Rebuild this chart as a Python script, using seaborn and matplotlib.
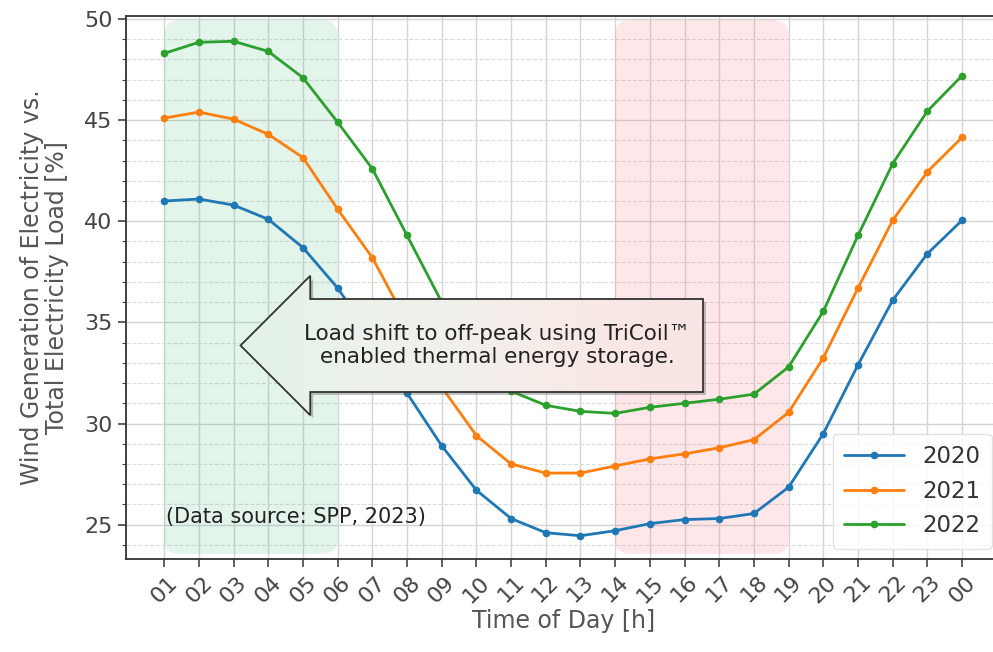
import numpy as np
import pandas as pd
import matplotlib
matplotlib.use('Agg')
import matplotlib.pyplot as plt
import seaborn as sns
from matplotlib.patches import FancyBboxPatch
from matplotlib.ticker import MultipleLocator

# Data
hours = ['01', '02', '03', '04', '05', '06', '07', '08', '09', '10', '11', '12',
         '13', '14', '15', '16', '17', '18', '19', '20', '21', '22', '23', '00']
wind_2020 = [41.0, 41.1, 40.8, 40.1, 38.7, 36.7, 34.2, 31.5, 28.9, 26.7, 25.3, 24.6,
             24.45, 24.7, 25.05, 25.25, 25.3, 25.55, 26.85, 29.5, 32.9, 36.1, 38.4, 40.05]
wind_2021 = [45.1, 45.4, 45.05, 44.3, 43.15, 40.6, 38.2, 35.0, 31.8, 29.4, 28.0, 27.55,
             27.55, 27.9, 28.25, 28.5, 28.8, 29.2, 30.55, 33.25, 36.7, 40.05, 42.45, 44.15]
wind_2022 = [48.3, 48.85, 48.9, 48.4, 47.1, 44.9, 42.6, 39.3, 36.0, 33.3, 31.6, 30.9,
             30.6, 30.5, 30.8, 31.0, 31.2, 31.45, 32.8, 35.55, 39.3, 42.85, 45.45, 47.2]
years = ['2020', '2021', '2022']
offpeak_span = ('01', '06')
peak_span = ('14', '19')

df = pd.DataFrame({
    'pos': list(range(len(hours))) * 3,
    'value': wind_2020 + wind_2021 + wind_2022,
    'year': [y for y in years for _ in hours],
})

sns.set_style('ticks')
plt.rcParams['font.family'] = ['DejaVu Sans']

fig = plt.figure(figsize=(9.93, 6.52), dpi=100)
ax = fig.add_axes([126 / 993, 93 / 652, 876 / 993, 543 / 652])

palette = ['#1f77b4', '#ff7f0e', '#2ca02c']
sns.lineplot(data=df, x='pos', y='value', hue='year', palette=palette,
             marker='o', markersize=5.5, markeredgewidth=0, linewidth=2,
             ax=ax, zorder=3)

ax.set_xlim(-1.1, 24.15)
ax.set_ylim(23.3, 50.15)

# shaded off-peak / peak periods with rounded corners
ylo, yhi = 23.55, 49.95
for (a, b), col in [(offpeak_span, '#3cb371'), (peak_span, '#ff5a6a')]:
    i0, i1 = hours.index(a), hours.index(b)
    band = FancyBboxPatch((i0, ylo), i1 - i0, yhi - ylo,
                          boxstyle='round,pad=0,rounding_size=0.45',
                          mutation_aspect=1.7, facecolor=col, alpha=0.14,
                          edgecolor='none', zorder=1)
    ax.add_patch(band)

ax.set_xticks(range(len(hours)))
ax.set_xticklabels(hours, rotation=45, ha='center')
ax.yaxis.set_major_locator(MultipleLocator(5))
ax.yaxis.set_minor_locator(MultipleLocator(1))
ax.grid(which='major', color='#d4d4d4', linewidth=1.0, linestyle='-', zorder=0)
ax.grid(which='minor', axis='y', color='#dcdcdc', linewidth=0.8, linestyle='--', zorder=0)
ax.set_axisbelow(True)

ax.tick_params(axis='both', which='major', labelsize=16, colors='#444444',
               length=6, width=1.2)
ax.tick_params(axis='y', which='minor', length=3, width=0.8, colors='#444444')
for s in ax.spines.values():
    s.set_color('#333333')
    s.set_linewidth(1.3)

ax.set_xlabel('Time of Day [h]', fontsize=17, color='#555555', labelpad=2)
ax.set_ylabel('Wind Generation of Electricity vs.\nTotal Electricity Load [%]',
              fontsize=17, color='#555555', labelpad=11, linespacing=1.05)

ax.text(0.05, 25.4, '(Data source: SPP, 2023)', fontsize=15, color='#222222',
        va='center', ha='left', zorder=4)

leg = ax.legend(loc='lower right', fontsize=16.5, handlelength=2.6, borderpad=0.5,
                labelspacing=0.5, frameon=True, framealpha=0.85,
                edgecolor='#dddddd', borderaxespad=0.45)
for t in leg.get_texts():
    t.set_color('#333333')

# big left-pointing arrow with the load shift note (drawn in inches)
H = 6.52
arrow = FancyBboxPatch((2.87, H - 3.92), 4.16, 0.93,
                       boxstyle='larrow,pad=0', transform=fig.dpi_scale_trans,
                       facecolor='none', edgecolor='#333333', linewidth=1.3,
                       zorder=6)
fig.add_artist(arrow)

shadow = FancyBboxPatch((2.90, H - 3.95), 4.16, 0.93,
                        boxstyle='larrow,pad=0', transform=fig.dpi_scale_trans,
                        facecolor='#555555', edgecolor='none', alpha=0.35,
                        zorder=4)
fig.add_artist(shadow)

gax = fig.add_axes([2.20 / 9.93, (H - 4.20) / H, 4.90 / 9.93, 1.45 / H], zorder=5)
gax.axis('off')
grad = np.array([[[0.89, 0.95, 0.91], [0.93, 0.95, 0.92],
                  [0.95, 0.94, 0.92], [0.97, 0.92, 0.91], [0.98, 0.90, 0.89]]])
im = gax.imshow(grad, aspect='auto', extent=(0, 1, 0, 1), interpolation='bicubic')
im.set_clip_path(arrow)
gax.set_xlim(0, 1)
gax.set_ylim(0, 1)

fig.text(4.97 / 9.93, (H - 3.455) / H,
         'Load shift to off-peak using TriCoil™\nenabled thermal energy storage.',
         fontsize=15.5, color='#222222', ha='center', va='center',
         linespacing=1.2, zorder=7)

fig.savefig('out.png', dpi=100)
